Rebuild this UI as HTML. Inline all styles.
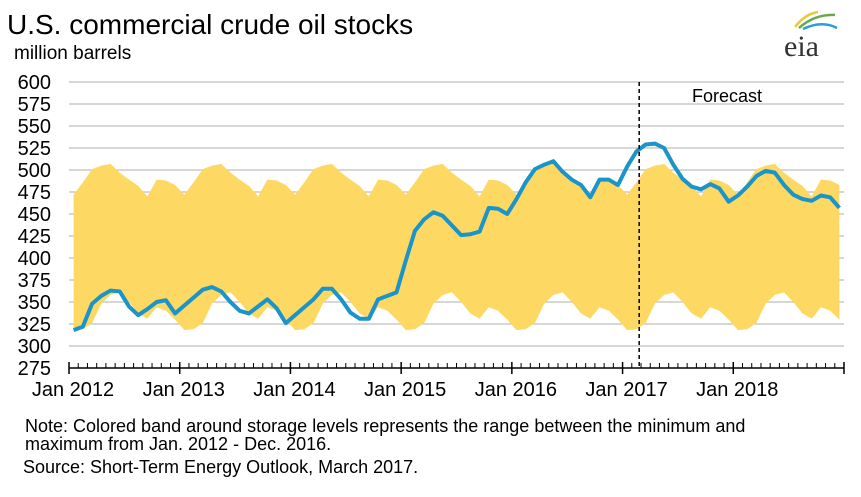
<!DOCTYPE html>
<html><head><meta charset="utf-8"><style>
body{margin:0;background:#fff;}
svg{display:block;font-family:"Liberation Sans",Arial,sans-serif;}
</style></head><body>
<svg id="chart" width="861" height="497" viewBox="0 0 861 497">
<text x="7" y="34" font-size="28" fill="#000">U.S. commercial crude oil stocks</text>
<text x="14" y="59" font-size="19" fill="#000">million barrels</text>
<g>
<path d="M795,27 Q805,14 818,12" stroke="#e8c93a" stroke-width="2.5" fill="none"/>
<path d="M799,28 Q815,14 835,15" stroke="#6aa84f" stroke-width="2.5" fill="none"/>
<path d="M803,29 Q822,20 837,28" stroke="#2a9fd6" stroke-width="2.5" fill="none"/>
<text x="784" y="56" font-family="'Liberation Serif',serif" font-size="30" fill="#333">eia</text>
</g>
<g id="grid"></g><g id="band"></g><g id="line"></g><g id="axes"></g>
<text x="692" y="102" font-size="18" fill="#000">Forecast</text>
<text x="25" y="432" font-size="18" fill="#000">Note:  Colored band around storage levels represents the range between the minimum  and</text>
<text x="25" y="450" font-size="18" fill="#000">maximum  from Jan. 2012 - Dec. 2016.</text>
<text x="23" y="473" font-size="18" fill="#000">Source: Short-Term Energy Outlook, March 2017.</text>
</svg>
<script>
const yTicks=[275,300,325,350,375,400,425,450,475,500,525,550,575,600];
const yearLabels=["Jan 2012","Jan 2013","Jan 2014","Jan 2015","Jan 2016","Jan 2017","Jan 2018"];
const bandMax=[472,486,501,505,507,497,489,482,470,489,488,483];
const bandMin=[318,319,326,348,358,361,350,337,331,344,340,330];
const stocks=[318,322,348,357,363,362,345,335,342,350,352,337,
346,355,364,367,362,350,340,337,345,353,343,326,
335,344,353,365,365,353,338,331,331,353,357,361,
397,431,444,452,448,437,426,427,430,457,456,450,
467,486,501,506,510,498,489,483,469,489,489,483,
504,521,529,530,525,506,490,481,478,484,479,464,
471,481,493,499,497,483,472,467,465,471,469,457];
const forecastStart=61.8;
const NS="http://www.w3.org/2000/svg";
const x0=69,x1=844,nMonths=84;
const xs=m=>x0+(m)*(x1-x0)/nMonths;
const xp=i=>xs(i+0.5);
const ys=v=>368-(v-275)*0.88;
function mk(tag,attrs,parent){const e=document.createElementNS(NS,tag);for(const k in attrs)e.setAttribute(k,attrs[k]);parent.appendChild(e);return e;}
const grid=document.getElementById('grid'),axes=document.getElementById('axes');
yTicks.forEach(v=>{
  if(v>275){const l=mk('line',{x1:x0,x2:x1,y1:ys(v),y2:ys(v),stroke:'#bfbfbf','stroke-width':1.3},grid);
  
  }
  const t=mk('text',{x:51,y:ys(v)+7,'font-size':20,'text-anchor':'end'},axes);
  
  
  t.textContent=v;
});
let up=[],lo=[];
for(let i=0;i<nMonths;i++){up.push(xp(i)+','+ys(bandMax[i%12]));lo.unshift(xp(i)+','+ys(bandMin[i%12]));}
const band=mk('polygon',{points:up.concat(lo).join(' '),fill:'#fdd964'},document.getElementById('band'));


const line=mk('polyline',{points:stocks.map((v,i)=>xp(i)+','+ys(v)).join(' '),fill:'none',stroke:'#1a94c9','stroke-width':4,'stroke-linejoin':'round'},document.getElementById('line'));


const ax=mk('line',{x1:x0,x2:x1,y1:368,y2:368,stroke:'#000','stroke-width':1.5},axes);


for(let m=0;m<=nMonths;m++){
  const major=m%12===0;
  const tk=mk('line',{x1:xs(m),x2:xs(m),y1:major?362:363,y2:major?374:368,stroke:'#000','stroke-width':major?1.5:1},axes);
  
  
}
yearLabels.forEach((s,k)=>{
  const t=mk('text',{x:xs(k*12)+4,y:396,'font-size':20,'text-anchor':'middle'},axes);
  
  
  t.textContent=s;
});
const fl=mk('line',{x1:xs(forecastStart),x2:xs(forecastStart),y1:82,y2:368,stroke:'#000','stroke-width':1.5,'stroke-dasharray':'4,3'},axes);


</script>
</body></html>
